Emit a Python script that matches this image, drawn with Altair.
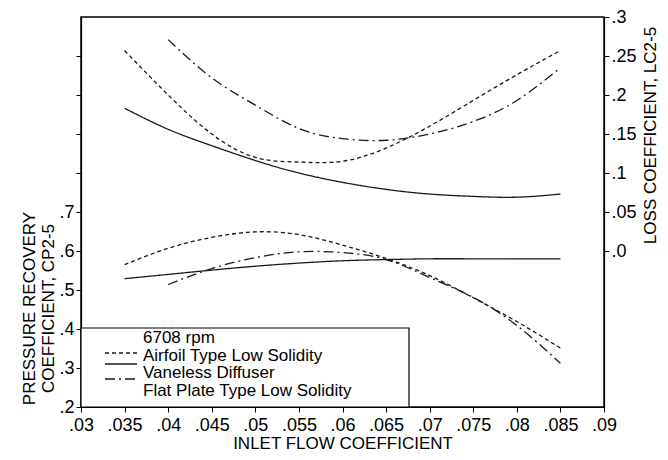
import altair as alt
import pandas as pd

# ---- data ----
X_FULL = [0.035, 0.04, 0.045, 0.05, 0.055, 0.06, 0.065, 0.07, 0.075, 0.08, 0.085]
X_FLAT = [0.04, 0.045, 0.05, 0.055, 0.06, 0.065, 0.07, 0.075, 0.08, 0.085]

SERIES = ["Airfoil Type Low Solidity", "Vaneless Diffuser", "Flat Plate Type Low Solidity"]

# pressure recovery coefficient CP2-5 (left axis)
CP_AIRFOIL = [0.565, 0.607, 0.635, 0.649, 0.642, 0.615, 0.581, 0.537, 0.480, 0.419, 0.351]
CP_VANELESS = [0.529, 0.540, 0.551, 0.561, 0.569, 0.575, 0.578, 0.580, 0.580, 0.580, 0.580]
CP_FLAT = [0.514, 0.555, 0.583, 0.598, 0.596, 0.578, 0.532, 0.481, 0.409, 0.312]

# loss coefficient LC2-5 (right axis)
LC_AIRFOIL = [0.257, 0.200, 0.150, 0.120, 0.114, 0.115, 0.132, 0.160, 0.193, 0.226, 0.257]
LC_VANELESS = [0.183, 0.156, 0.135, 0.116, 0.100, 0.088, 0.079, 0.073, 0.070, 0.069, 0.073]
LC_FLAT = [0.271, 0.222, 0.187, 0.157, 0.144, 0.142, 0.150, 0.166, 0.193, 0.235]

X_TICKS = [0.03, 0.035, 0.04, 0.045, 0.05, 0.055, 0.06, 0.065, 0.07, 0.075, 0.08, 0.085, 0.09]
CP_TICKS = [0.2, 0.3, 0.4, 0.5, 0.6, 0.7, 0.8, 0.9, 1.0, 1.1]
LC_TICKS = [0.0, 0.05, 0.1, 0.15, 0.2, 0.25, 0.3]
LEGEND_TITLE = "6708 rpm"

# ---- tables ----
def table(xs, vs, name, col):
    return [{"x": x, col: v, "series": name} for x, v in zip(xs, vs)]

df_cp = pd.DataFrame(
    table(X_FULL, CP_AIRFOIL, SERIES[0], "cp")
    + table(X_FULL, CP_VANELESS, SERIES[1], "cp")
    + table(X_FLAT, CP_FLAT, SERIES[2], "cp")
)
df_lc = pd.DataFrame(
    table(X_FULL, LC_AIRFOIL, SERIES[0], "lc")
    + table(X_FULL, LC_VANELESS, SERIES[1], "lc")
    + table(X_FLAT, LC_FLAT, SERIES[2], "lc")
)

FONT = "Liberation Sans"
INK = "#1a1a1a"
DASHES = [[4, 3], [1, 0], [10, 4, 2, 4]]
dash_scale = alt.Scale(domain=SERIES, range=DASHES)

x_enc = alt.X(
    "x:Q",
    scale=alt.Scale(domain=[0.03, 0.09], nice=False, zero=False),
    axis=alt.Axis(
        values=X_TICKS,
        labelExpr="replace(format(datum.value, '.3~f'), '0.', '.')",
        labelFlush=False,
        title="INLET FLOW COEFFICIENT",
        labelPadding=4,
        titlePadding=1,
    ),
)

lower = alt.Chart(df_cp).mark_line(interpolate="natural", strokeWidth=1.3, color=INK).encode(
    x=x_enc,
    y=alt.Y(
        "cp:Q",
        scale=alt.Scale(domain=[0.2, 1.2], nice=False, zero=False),
        axis=alt.Axis(
            orient="left",
            values=CP_TICKS,
            labelExpr="datum.value <= 0.71 ? replace(format(datum.value, '.1f'), '0.', '.') : ''",
            labelFlush=False,
            title=["PRESSURE RECOVERY", "COEFFICIENT, CP2-5"],
            titleAngle=270,
            titleX=-47,
            titleY=291,
            titleAlign="center",
            titleBaseline="alphabetic",
            labelPadding=2,
        ),
    ),
    strokeDash=alt.StrokeDash("series:N", scale=dash_scale, legend=None),
    detail="series:N",
)

upper = alt.Chart(df_lc).mark_line(interpolate="natural", strokeWidth=1.3, color=INK).encode(
    x=x_enc,
    y=alt.Y(
        "lc:Q",
        scale=alt.Scale(domain=[-0.2, 0.3], nice=False, zero=False),
        axis=alt.Axis(
            orient="right",
            values=LC_TICKS,
            labelExpr="datum.value < 0.001 ? '.0' : replace(format(datum.value, '.2~f'), '0.', '.')",
            labelFlush=False,
            title="LOSS COEFFICIENT, LC2-5",
            titleAngle=270,
            titleX=51,
            titleY=118,
            titleAlign="center",
            titleBaseline="alphabetic",
            labelPadding=2,
        ),
    ),
    strokeDash=alt.StrokeDash("series:N", scale=dash_scale, legend=None),
    detail="series:N",
)

one = alt.Data(values=[{}])

# legend box (decoration), pixel offsets inside the plot area
box = alt.Chart(one).mark_rect(fill="white", stroke="black", strokeWidth=1.2).encode(
    x=alt.value(0), x2=alt.value(328), y=alt.value(311), y2=alt.value(390)
)
legend_layers = [box]
legend_layers.append(
    alt.Chart(one).mark_text(align="left", baseline="middle", font=FONT, fontSize=17, color="black").encode(
        x=alt.value(62), y=alt.value(320.5), text=alt.value(LEGEND_TITLE)
    )
)
sample_y = [336, 347, 362]
for i, name in enumerate(SERIES):
    legend_layers.append(
        alt.Chart(one).mark_rule(strokeWidth=1.3, color=INK, strokeDash=DASHES[i]).encode(
            x=alt.value(24), x2=alt.value(56), y=alt.value(sample_y[i])
        )
    )
    legend_layers.append(
        alt.Chart(one).mark_text(align="left", baseline="middle", font=FONT, fontSize=17, color="black").encode(
            x=alt.value(62), y=alt.value(339 + i * 17.3), text=alt.value(name)
        )
    )

chart = (
    alt.layer(lower, upper, *legend_layers)
    .resolve_scale(y="independent")
    .properties(
        width=523,
        height=390,
        autosize=alt.AutoSizeParams(type="none"),
        padding={"left": 73, "top": 9, "right": 56, "bottom": 45},
        background="white",
    )
    .configure_view(stroke="black", strokeWidth=1.5)
    .configure_axis(
        grid=False,
        domainColor="black",
        domainWidth=1.2,
        tickColor="black",
        tickSize=5,
        tickWidth=1,
        labelColor="black",
        titleColor="black",
        labelFont=FONT,
        titleFont=FONT,
        labelFontSize=18,
        titleFontSize=17,
        titleFontWeight="normal",
    )
)

chart.save("out.html", embed_options={"renderer": "svg", "actions": False})
